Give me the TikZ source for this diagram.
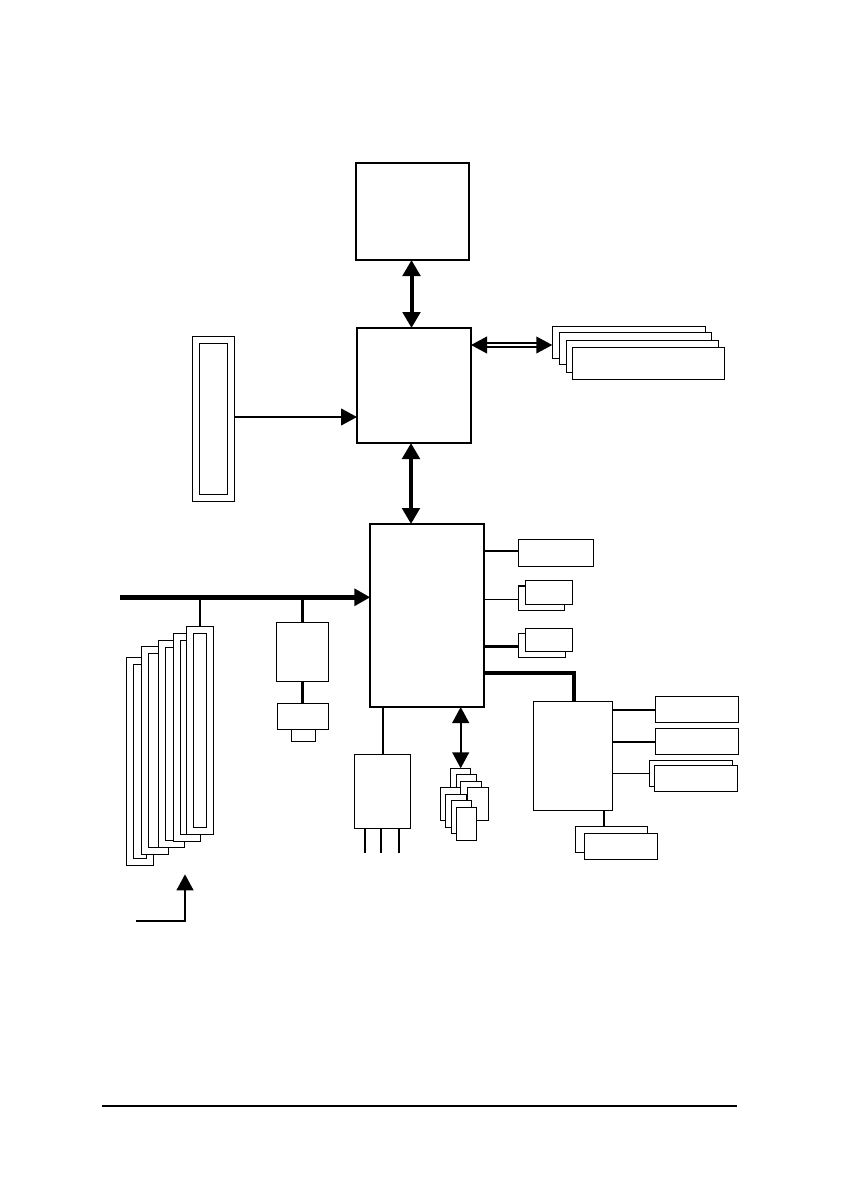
\documentclass[tikz,border=0pt]{standalone}
\usepackage{amsmath}
\usepackage{tikz}
\usetikzlibrary{arrows.meta, positioning, calc}

\begin{document}
\begin{tikzpicture}[
    x=0.75pt, y=-0.75pt,
    wh/.style 2 args={minimum width=#1*0.75pt, minimum height=#2*0.75pt},
    block/.style={draw, fill=white, line width=1pt, anchor=north west, inner sep=0pt, outer sep=0pt},
    chip/.style={block, line width=1.5pt},
    thinlink/.style={line width=1pt},
    link/.style={line width=1.6pt},
    heavylink/.style={line width=2.3pt},
    bigarrow/.style={line width=3pt, {Triangle[length=12pt, width=13pt]}-{Triangle[length=12pt, width=13pt]}},
    oneway/.style={-{Triangle[length=12pt, width=12.5pt]}}
]
    \useasboundingbox (0,0) rectangle (840,1190);

    % Main chips down the middle
    \node[chip, wh={113}{97}] (cpu) at (356,163) {};
    \node[chip, wh={114}{115}] (north) at (357,328) {};
    \node[chip, wh={113.5}{183}] (south) at (370.3,524) {};

    % Graphics slot on the left of the north chip
    \node[block, wh={41.6}{165}] (agp) at (192.7,336.3) {};
    \node[block, wh={28}{151}] (agpin) at (199.3,343.3) {};

    % Memory modules, back to front
    \node[block, wh={153.4}{32}] (mem1) at (552.3,326.3) {};
    \node[block, wh={152.4}{32}] (mem2) at (559.3,332.3) {};
    \node[block, wh={152.4}{32}] (mem3) at (566.3,340.3) {};
    \node[block, wh={152.4}{32}] (mem4) at (572.3,347.3) {};

    % Connections around the north chip
    \draw[bigarrow] (cpu.south -| 411.5,0) -- (north.north -| 411.5,0);
    \draw[bigarrow] (north.south -| 411,0) -- (south.north -| 411,0);
    \draw[link, oneway] (agp.east |- 0,417) -- (north.west |- 0,417);
    \draw[line width=1.4pt, double, double distance=1.5pt, {Triangle[length=12pt, width=12.5pt]}-{Triangle[length=12pt, width=12.5pt]}] (north.east |- 0,345) -- (mem1.west |- 0,345);

    % PCI slots, back to front
    \node[block, wh={27.4}{208.4}] (slot1) at (126.3,657.3) {};
    \node[block, wh={13.4}{194.4}] (slot1in) at (133.3,664.3) {};
    \node[block, wh={27.4}{208.4}] (slot2) at (141.3,646.3) {};
    \node[block, wh={13.4}{194.4}] (slot2in) at (148.3,653.3) {};
    \node[block, wh={26.4}{207.4}] (slot3) at (158.3,640.3) {};
    \node[block, wh={13.4}{193.4}] (slot3in) at (165.3,647.3) {};
    \node[block, wh={27.4}{208.4}] (slot4) at (173.3,633.3) {};
    \node[block, wh={13.4}{194.4}] (slot4in) at (180.3,640.3) {};
    \node[block, wh={27.4}{208.4}] (slot5) at (186.3,626.3) {};
    \node[block, wh={13.4}{194.4}] (slot5in) at (193.3,633.3) {};

    % Bus into the south chip, with its branches
    \coordinate (busstart) at (120,597.3);
    \draw[line width=3.8pt, oneway] (busstart) -- (south.west |- busstart);
    \draw[link] (slot5.north) -- (slot5.north |- busstart);
    \node[block, wh={52.4}{59}] (audio) at (276.3,622.3) {};
    \node[block, wh={51.4}{26}] (codec) at (277.3,703.3) {};
    \node[block, wh={24.4}{12.4}] (jack) at (291.3,729.3) {};
    \draw[link] (audio.north) -- (audio.north |- busstart);
    \draw[link] (audio.south) -- (audio.south |- codec.north);

    % Arrow under the slots
    \coordinate (riserstart) at (136,921);
    \coordinate (risertip) at (185,874.3);
    \draw[link, oneway] (riserstart) -| (risertip);

    % Below the south chip
    \node[block, wh={56.4}{74}] (lan) at (354.3,754.3) {};
    \draw[link] (south.south -| 383,0) -- (lan.north -| 383,0);
    \coordinate (stub1) at (365,852.7);
    \coordinate (stub2) at (381,852.7);
    \coordinate (stub3) at (399,852.7);
    \draw[link] (lan.south -| stub1) -- (stub1);
    \draw[link] (lan.south -| stub2) -- (stub2);
    \draw[link] (lan.south -| stub3) -- (stub3);

    % Small modules, back to front
    \node[block, wh={20.4}{33}] (mod1) at (450.3,768.3) {};
    \node[block, wh={20.4}{33}] (mod2) at (456.3,774.3) {};
    \node[block, wh={21.4}{33}] (mod3) at (460.3,781.3) {};
    \node[block, wh={21.4}{33}] (mod4) at (467.3,787.3) {};
    \node[block, wh={20.4}{33}] (mod5) at (440.3,787.3) {};
    \node[block, wh={21.4}{33}] (mod6) at (445.3,794.3) {};
    \node[block, wh={20.4}{33}] (mod7) at (451.3,800.3) {};
    \node[block, wh={20.4}{33}] (mod8) at (456.3,807.3) {};
    \draw[link, {Triangle[length=12pt, width=12.5pt]}-{Triangle[length=12pt, width=12.5pt]}] (south.south -| 460.7,0) -- (mod1.north -| 460.7,0);

    % Right of the south chip
    \node[block, wh={75}{27}] (ide) at (518.3,539.3) {};
    \node[block, wh={46.4}{24.3}] (usbback) at (518.3,586) {};
    \node[block, wh={47}{24}] (usb) at (525.3,580.3) {};
    \node[block, wh={47.4}{24}] (sataback) at (518.3,633.3) {};
    \node[block, wh={47}{23}] (sata) at (525.3,628.3) {};
    \draw[link] (south.east |- 0,551) -- (ide.west |- 0,551);
    \draw[thinlink] (south.east |- 0,599.3) -- (usbback.west |- 0,599.3);
    \draw[heavylink] (south.east |- 0,646.3) -- (sataback.west |- 0,646.3);

    % Super I/O and what hangs off it
    \node[block, wh={79}{109}] (sio) at (533.3,701.3) {};
    \draw[line width=3.2pt] (south.east |- 0,673) -| (574,0 |- sio.north);
    \node[block, wh={83}{26}] (kbd) at (655.3,696.3) {};
    \node[block, wh={83}{26}] (mouse) at (655.3,728.3) {};
    \node[block, wh={83.4}{26}] (comback) at (649.3,760.3) {};
    \node[block, wh={83}{26}] (com) at (654.3,765.3) {};
    \node[block, wh={72.4}{26}] (lptback) at (575.3,826.3) {};
    \node[block, wh={73}{26}] (lpt) at (584.3,833.3) {};
    \draw[link] (sio.east |- 0,710) -- (kbd.west |- 0,710);
    \draw[link] (sio.east |- 0,741.7) -- (mouse.west |- 0,741.7);
    \draw[thinlink] (sio.east |- 0,773.3) -- (comback.west |- 0,773.3);
    \draw[link] (sio.south -| 604,0) -- (lptback.north -| 604,0);

    % Rule at the foot of the page
    \coordinate (footleft) at (102,1106);
    \coordinate (footright) at (737,1106);
    \draw[line width=1.2pt] (footleft) -- (footright);

\end{tikzpicture}
\end{document}
